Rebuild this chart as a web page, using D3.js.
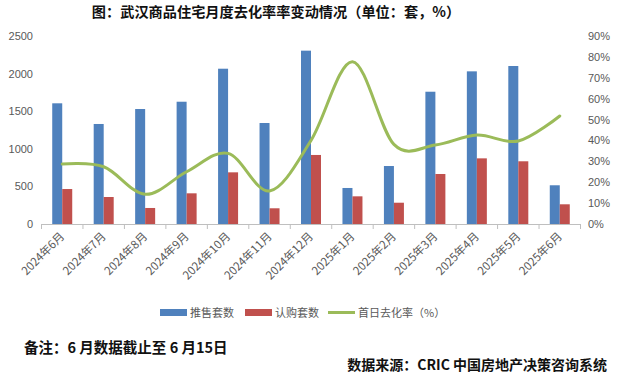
<!DOCTYPE html>
<html><head><meta charset="utf-8">
<script src="https://cdn.jsdelivr.net/npm/d3@7"></script>
<style>
body{margin:0;background:#fff;}
svg{display:block;}
</style></head>
<body>
<svg id="c" width="620" height="378"></svg>
<script>
const categories = ["2024年6月","2024年7月","2024年8月","2024年9月","2024年10月","2024年11月","2024年12月","2025年1月","2025年2月","2025年3月","2025年4月","2025年5月","2025年6月"];
const supply = [1605,1330,1529,1626,2065,1343,2305,479,771,1759,2030,2101,515];
const subscribed = [465,359,213,408,687,209,918,368,283,665,873,834,262];
const rate = [28.7,27.4,14.2,25.0,33.8,15.8,40.0,77.7,38.1,37.8,42.6,39.7,51.7];
const leftTicks = [0,500,1000,1500,2000,2500];
const rightTicks = [0,10,20,30,40,50,60,70,80,90];
const seriesNames = ["推售套数","认购套数","首日去化率（%）"];
const colors = ["#4F81BD","#C0504D","#9BBB59"];

const svg = d3.select("#c");
const fontAxis = "'Liberation Sans','Noto Sans CJK SC',sans-serif";
const fontCJK = "'Noto Sans CJK SC',sans-serif";
const L = 41.5, R = 580.5, T = 36, B = 224;

const x = d3.scaleBand().domain(categories).range([L, R]).paddingInner(0).paddingOuter(0);
const yL = d3.scaleLinear().domain([0, 2500]).range([B, T]);
const yR = d3.scaleLinear().domain([0, 90]).range([B, T]);
const barW = 10;

// title
svg.append("text").attr("x", 276).attr("y", 17).attr("text-anchor", "middle")
  .attr("font-family", fontCJK).attr("font-weight", 700).attr("font-size", 14.2).attr("fill", "#111")
  .text("图：武汉商品住宅月度去化率率变动情况（单位：套，%）");

// left axis labels
svg.append("g").selectAll("text").data(leftTicks).join("text")
  .attr("x", 33).attr("y", d => yL(d) + 4).attr("text-anchor", "end")
  .attr("font-family", fontAxis).attr("font-size", 11).attr("fill", "#595959")
  .text(d => d);
// right axis labels
svg.append("g").selectAll("text").data(rightTicks).join("text")
  .attr("x", 588).attr("y", d => yR(d) + 4).attr("text-anchor", "start")
  .attr("font-family", fontAxis).attr("font-size", 11).attr("fill", "#595959")
  .text(d => d + "%");

// bars
const g = svg.append("g");
g.selectAll("rect.s").data(supply).join("rect").attr("class", "s")
  .attr("x", (d, i) => x(categories[i]) + x.bandwidth() / 2 - barW)
  .attr("y", d => yL(d)).attr("width", barW).attr("height", d => B - yL(d))
  .attr("fill", colors[0]);
g.selectAll("rect.b").data(subscribed).join("rect").attr("class", "b")
  .attr("x", (d, i) => x(categories[i]) + x.bandwidth() / 2)
  .attr("y", d => yL(d)).attr("width", barW).attr("height", d => B - yL(d))
  .attr("fill", colors[1]);

// x axis
const xa = svg.append("g").attr("transform", `translate(0,${B})`)
  .call(d3.axisBottom(x).tickSize(0).tickFormat(""));
xa.select(".domain").attr("stroke", "#BFBFBF");
const bounds = categories.map(c => x(c)).concat([R]);
svg.append("g").selectAll("line").data(bounds).join("line")
  .attr("x1", d => d).attr("x2", d => d).attr("y1", B).attr("y2", B + 5)
  .attr("stroke", "#BFBFBF");
svg.append("g").selectAll("text").data(categories).join("text")
  .attr("transform", d => `translate(${x(d) + x.bandwidth() / 2 + 3},${B + 13}) rotate(-45)`)
  .attr("text-anchor", "end")
  .attr("font-family", fontCJK).attr("font-size", 11.5).attr("fill", "#595959")
  .text(d => d);

// line
const line = d3.line()
  .x((d, i) => x(categories[i]) + x.bandwidth() / 2)
  .y(d => yR(d))
  .curve(d3.curveCatmullRom.alpha(0));
svg.append("path").datum(rate).attr("d", line)
  .attr("fill", "none").attr("stroke", colors[2]).attr("stroke-width", 3)
  .attr("stroke-linecap", "round");

// legend
const lg = svg.append("g").attr("font-family", fontCJK).attr("font-size", 11).attr("fill", "#595959");
lg.append("rect").attr("x", 160).attr("y", 309).attr("width", 27).attr("height", 7).attr("fill", colors[0]);
lg.append("text").attr("x", 190).attr("y", 317).text(seriesNames[0]);
lg.append("rect").attr("x", 245).attr("y", 309).attr("width", 27).attr("height", 7).attr("fill", colors[1]);
lg.append("text").attr("x", 275).attr("y", 317).text(seriesNames[1]);
lg.append("line").attr("x1", 328).attr("x2", 355).attr("y1", 312.5).attr("y2", 312.5)
  .attr("stroke", colors[2]).attr("stroke-width", 3);
lg.append("text").attr("x", 358).attr("y", 317).text(seriesNames[2]);

// footer
svg.append("text").attr("x", 24).attr("y", 353)
  .attr("font-family", fontCJK).attr("font-weight", 700).attr("font-size", 14.5).attr("fill", "#111")
  .attr("xml:space", "preserve").style("white-space", "pre")
  .text("备注：6 月数据截止至 6 月15日");
svg.append("text").attr("x", 607).attr("y", 370).attr("text-anchor", "end")
  .attr("font-family", fontCJK).attr("font-weight", 700).attr("font-size", 14).attr("fill", "#111")
  .attr("xml:space", "preserve").style("white-space", "pre")
  .text("数据来源：CRIC 中国房地产决策咨询系统");
</script>
</body></html>
